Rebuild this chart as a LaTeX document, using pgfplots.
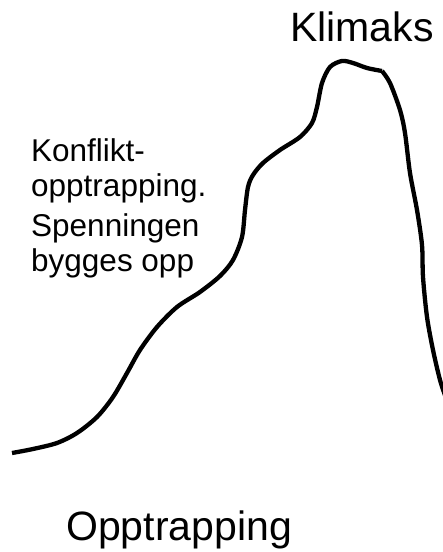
\documentclass[border=0pt]{standalone}
\usepackage{pgfplots}
\pgfplotsset{compat=1.18}
\usepackage{fontspec}
\setmainfont{Liberation Sans}
\begin{document}
\begin{tikzpicture}
\begin{axis}[scale only axis, width=443pt, height=552pt,
  xmin=0, xmax=443, ymin=0, ymax=552, hide axis, clip=true]
\path (axis cs:0,0) rectangle (axis cs:443,552);
% rising part up to the corner near the top (pixel y flipped: 552 - y)
\addplot[black, line width=4.3pt, smooth, tension=0.5] coordinates {
(12,99) (33,103) (57,109) (77,119) (97,135) (113,155) (127,179) (140,202)
(157,225) (177,245) (200,260) (220,276) (233,292) (242,315) (245,342)
(248,365) (253,377) (263,389) (280,402) (300,415) (312,429) (317,445)
(322,469) (330,485) (342,491) (353,489) (367,484) (382,481)
};
% falling part from the corner to the right edge
\addplot[black, line width=4.3pt, smooth, tension=0.5] coordinates {
(382,481) (390,469) (400,442) (405,419) (410,379) (417,342) (422,307)
(423,275) (427,235) (433,202) (440,172) (446,154)
};
\node[anchor=base west, inner sep=0pt, font=\fontsize{41}{41}\selectfont] at (axis cs:290,510) {Klimaks};
\node[anchor=base west, inner sep=0pt, font=\fontsize{41}{41}\selectfont] at (axis cs:66,12) {Opptrapping};
\node[anchor=base west, inner sep=0pt, font=\fontsize{31.5}{31.5}\selectfont] at (axis cs:31,390) {Konflikt-};
\node[anchor=base west, inner sep=0pt, font=\fontsize{31.5}{31.5}\selectfont] at (axis cs:31,355) {opptrapping.};
\node[anchor=base west, inner sep=0pt, font=\fontsize{31.5}{31.5}\selectfont] at (axis cs:31,315) {Spenningen};
\node[anchor=base west, inner sep=0pt, font=\fontsize{31.5}{31.5}\selectfont] at (axis cs:31,280) {bygges opp};
\end{axis}
\end{tikzpicture}
\end{document}
